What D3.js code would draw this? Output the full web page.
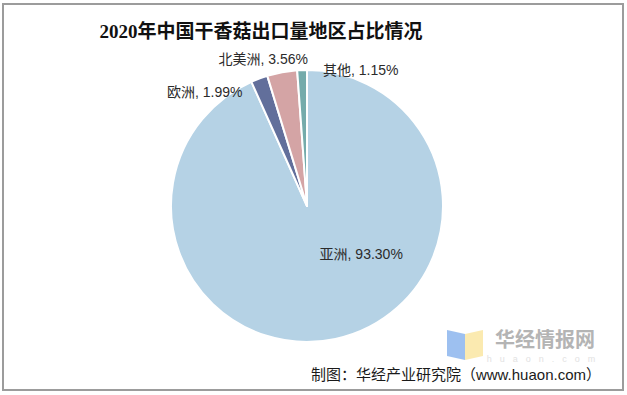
<!DOCTYPE html>
<html>
<head>
<meta charset="utf-8">
<script src="https://cdn.jsdelivr.net/npm/d3@7"></script>
<style>
  body { margin: 0; background: #fff; }
  svg { display: block; }
</style>
</head>
<body>
<svg width="627" height="395"></svg>
<script>
// chart data
const regions = ["亚洲", "欧洲", "北美洲", "其他"];
const shares = [93.30, 1.99, 3.56, 1.15];
const sliceColors = ["#b5d2e5", "#626f9b", "#d4a4a5", "#74abab"];

const svg = d3.select("svg"),
  width = +svg.attr("width"),
  height = +svg.attr("height");

const cx = 307, cy = 206, radius = 136;
const latin = "'Liberation Sans', 'Noto Sans CJK SC', sans-serif";

// outer frame
svg.append("rect")
  .attr("x", 3).attr("y", 4)
  .attr("width", width - 7).attr("height", height - 9)
  .attr("fill", "none")
  .attr("stroke", "#9c9c9c")
  .attr("stroke-width", 2);

// title
svg.append("text")
  .attr("x", 261).attr("y", 38)
  .attr("text-anchor", "middle")
  .attr("font-family", "'Liberation Serif', 'Noto Sans CJK SC', serif")
  .attr("font-weight", "bold")
  .attr("font-size", 19)
  .attr("fill", "#111")
  .text("2020年中国干香菇出口量地区占比情况");

// watermark logo (behind text)
const logo = svg.append("g").attr("opacity", 0.85);
logo.append("path")
  .attr("d", "M447,330 L465,334 L465,360 L447,356 Z")
  .attr("fill", "#8db6ee");
logo.append("path")
  .attr("d", "M465,334 L483,330 L483,356 L465,360 Z")
  .attr("fill", "#fbe7a3");
svg.append("text")
  .attr("x", 545).attr("y", 347)
  .attr("text-anchor", "middle")
  .attr("font-family", "'Noto Sans CJK SC', sans-serif")
  .attr("font-weight", "bold")
  .attr("font-size", 20)
  .attr("fill", "#b4b4b4")
  .text("华经情报网");
svg.append("text")
  .attr("x", 545).attr("y", 362)
  .attr("text-anchor", "middle")
  .attr("font-family", latin)
  .attr("font-size", 9)
  .attr("letter-spacing", 8)
  .attr("fill", "#e2e2e2")
  .text("huaon.com");

// pie
const data = regions.map((name, i) => ({ name, value: shares[i], color: sliceColors[i] }));
const pie = d3.pie().sort(null).value(d => d.value);
const arc = d3.arc().innerRadius(0).outerRadius(radius);
const outerArc = d3.arc().innerRadius(radius + 10).outerRadius(radius + 10);
const innerArc = d3.arc().innerRadius(radius / 2).outerRadius(radius / 2);

const g = svg.append("g").attr("transform", `translate(${cx},${cy})`);
const arcs = pie(data);

g.selectAll("path.slice")
  .data(arcs)
  .join("path")
  .attr("class", "slice")
  .attr("d", arc)
  .attr("fill", d => d.data.color)
  .attr("stroke", "#fff")
  .attr("stroke-width", 2)
  .attr("stroke-linejoin", "round");

// label nudges (Excel best-fit style placement)
const nudge = {
  "亚洲": [40, -19],
  "欧洲": [-51, 23],
  "北美洲": [-17, -4],
  "其他": [59, 10]
};

g.selectAll("text.lbl")
  .data(arcs)
  .join("text")
  .attr("class", "lbl")
  .attr("transform", d => {
    const p = d.data.name === "亚洲" ? innerArc.centroid(d) : outerArc.centroid(d);
    const n = nudge[d.data.name];
    return `translate(${p[0] + n[0]},${p[1] + n[1]})`;
  })
  .attr("text-anchor", "middle")
  .attr("dy", "0.36em")
  .attr("font-family", latin)
  .attr("font-size", 14)
  .attr("fill", "#2b2b2b")
  .text(d => `${d.data.name}, ${d.data.value.toFixed(2)}%`);

// source note
svg.append("text")
  .attr("x", 601).attr("y", 380)
  .attr("text-anchor", "end")
  .attr("font-family", latin)
  .attr("font-size", 15)
  .attr("fill", "#1a1a1a")
  .text("制图：华经产业研究院（www.huaon.com）");
</script>
</body>
</html>
